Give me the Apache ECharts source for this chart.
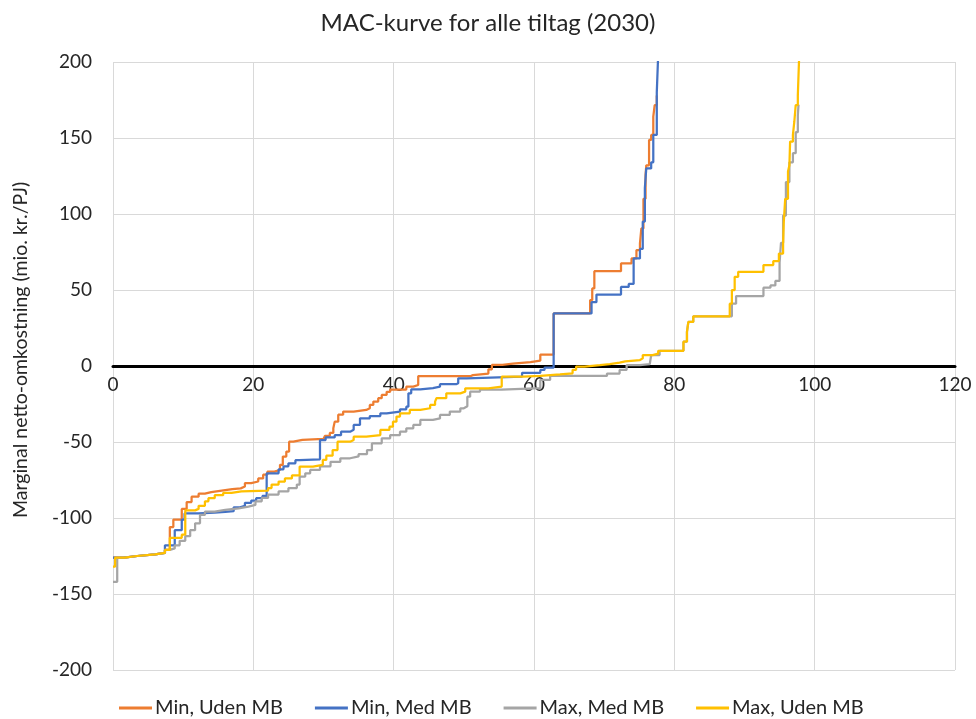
<!DOCTYPE html>
<html>
<head>
<meta charset="utf-8">
<script src="https://cdn.jsdelivr.net/npm/echarts@6/dist/echarts.min.js"></script>
<style>
html,body{margin:0;padding:0;background:#fff;}
#chart{width:976px;height:719px;}
</style>
</head>
<body>
<div id="chart"></div>
<script>
const titleText = "MAC-kurve for alle tiltag (2030)";
const yAxisName = "Marginal netto-omkostning (mio. kr./PJ)";
const seriesNames = ["Min, Uden MB", "Min, Med MB", "Max, Med MB", "Max, Uden MB"];

// [cumulative potential (PJ), marginal cost] – step curves
const minUdenMB = [[0,-126],[1.5,-125],[3.5,-124],[6,-123],[7.4,-121],[8.1,-106],[8.6,-101],[9.8,-94],[10.5,-89.5],[11.2,-86],[12.2,-84],[13.1,-83],[14,-82],[15.5,-81],[17,-80.5],[18.2,-79.3],[18.8,-77],[19.7,-76],[20.7,-74],[21.4,-71.5],[22,-69.5],[23,-68.4],[23.8,-65],[24.2,-59.6],[24.7,-56.3],[25.1,-49.8],[25.7,-48.6],[27,-48],[30,-47.6],[30.2,-46],[30.9,-44],[31.4,-41],[31.6,-36.6],[32.1,-32],[32.8,-30],[34.3,-28.9],[36.1,-27.8],[36.6,-25.6],[37.1,-23.4],[37.8,-21.2],[38.3,-19],[39,-17],[39.5,-15.5],[41.8,-13.6],[42.8,-12.5],[43.5,-6.6],[51,-6],[51.3,-5],[53.5,-2.2],[54,0.7],[55.5,1.5],[57,2.6],[59.5,3.5],[60.9,7.5],[62.8,34.6],[68,43.4],[68.3,51],[68.6,62.4],[72.4,67.5],[73.9,70.8],[74.6,76.3],[75.1,80.7],[75.3,90.5],[75.6,110],[75.9,125.7],[76,132],[76.4,148.7],[76.7,152],[77,164],[77.2,171.7],[77.5,178],[77.6,178]];
const minMedMB = [[0,-126],[1.5,-125],[3.5,-124],[6,-123],[7.4,-118],[8.8,-108],[9.8,-101],[10.2,-97],[12.2,-96.5],[14.5,-96],[16,-95.5],[17.2,-93],[18.1,-92],[18.8,-90],[19.7,-88.5],[20.4,-87],[21.3,-85.5],[21.9,-70.6],[23.6,-68],[24.3,-66],[25,-64],[26,-62],[26.6,-61.4],[29.5,-48.7],[30.3,-47],[31.6,-45.5],[32.5,-43.2],[33.8,-42],[34.3,-38.8],[35.2,-34.4],[36.6,-32.9],[38.1,-31.1],[39,-30],[40.9,-28.5],[41.8,-26.8],[42.1,-18],[42.5,-15.4],[43.8,-14.5],[45.6,-13.6],[46.6,-12],[48.9,-11.4],[49.2,-8.1],[50.4,-7],[58.3,-4.5],[60.9,-2.6],[61.5,-1],[62.8,34.6],[68.2,42],[68.9,47],[72.4,52],[73.5,54],[74.2,70.8],[75.1,77],[75.5,95],[75.8,117],[76,130],[76.7,134],[77,152],[77.5,180],[77.7,205],[77.8,205]];
const maxMedMB = [[0,-142],[0.6,-126],[1.7,-125],[3.4,-124],[6,-123],[7.4,-121],[8.1,-120],[8.8,-118],[9.5,-115],[10.3,-112],[11,-108],[11.7,-103.5],[12.4,-98],[13.1,-95.8],[14.5,-94.7],[16,-93.6],[17.9,-92.5],[19.3,-91.4],[20.3,-89],[21.2,-86.8],[22.1,-84.6],[23.6,-82.5],[25,-80.3],[26.2,-78],[26.6,-72.7],[27.4,-70.6],[28.1,-68.4],[29.5,-66],[31,-63],[32.4,-60.7],[33.8,-59.5],[35,-58],[36.2,-55.3],[36.9,-50.9],[38.3,-47.6],[39.5,-45.4],[40.9,-43.2],[41.8,-41],[42.8,-38.8],[43.8,-35.5],[45.6,-34.5],[46.6,-32.2],[48,-30],[49.5,-27.8],[50,-26.5],[50.5,-20.2],[50.9,-16.9],[52.3,-15.5],[55.4,-14.5],[60.9,-9.2],[62.3,-6.5],[70.4,-5],[72.2,-2.6],[73.2,0.5],[75.1,1.3],[76.5,2],[76.7,7.2],[77.9,10],[81.3,16],[81.8,22.5],[82,29],[82.7,32.7],[88.2,41],[88.8,46],[92.7,51.5],[93.7,53],[94.4,56],[95,68],[95.2,81],[95.5,99],[95.9,121],[96.4,134],[96.9,140],[97.3,153.8],[97.6,165],[97.7,172],[97.8,172]];
const maxUdenMB = [[0,-132],[0.3,-126],[1.7,-125],[3.4,-124],[6,-123],[7.4,-121],[8.1,-113],[9.8,-111],[10.3,-95],[11.7,-94],[12.2,-92],[13.1,-89],[13.6,-87],[14.5,-85],[15.7,-83.5],[16.9,-82.5],[18.3,-82],[22.1,-80.3],[22.6,-78],[23.6,-76],[24.5,-74],[25.5,-72],[26.6,-66.2],[28.5,-65],[29.9,-61.8],[30.4,-59],[31.3,-55.3],[32,-49.8],[33.8,-48.7],[34.3,-46.5],[36.1,-45.4],[38.1,-42.1],[39.4,-39.9],[39.9,-36.6],[40.4,-33.3],[40.9,-31.1],[42.3,-28.9],[43.8,-27.8],[45.2,-25.6],[45.9,-23.4],[46.1,-21.2],[47.5,-18],[49.5,-16.9],[50.2,-14.7],[53.5,-13.5],[55.4,-7],[58.5,-6.5],[60.9,-5.5],[63.7,-4.8],[65.5,-2.5],[66,-0.4],[67.2,0.5],[69.4,1.3],[70.8,2.2],[72.2,3],[73,3.9],[75.1,5],[75.5,7.2],[76.9,8.1],[77.7,10],[81.3,16],[81.8,22.5],[82,29],[82.7,32.7],[87.9,41],[88.2,50],[88.6,58.7],[89.1,62],[92.7,66.4],[94.1,69],[94.9,74],[95.5,80],[95.6,95],[95.8,110],[96.2,128],[96.4,132],[96.5,147.6],[96.9,152],[97.1,160.7],[97.3,171.7],[97.6,178],[97.8,205],[97.9,205]];

const seriesData = [minUdenMB, minMedMB, maxMedMB, maxUdenMB];
const colors = ["#ED7D31", "#4472C4", "#A5A5A5", "#FFC000"];

const FONT = "Lato";
const TXT = "#262626";
const chart = echarts.init(document.getElementById('chart'), null, {renderer: 'canvas'});
chart.setOption({
  animation: false,
  backgroundColor: '#fff',
  title: {
    text: titleText,
    left: 'center',
    top: 6,
    textStyle: {fontFamily: FONT, fontSize: 24, fontWeight: 'normal', color: TXT}
  },
  legend: {
    data: seriesNames,
    left: 114,
    top: 693,
    icon: 'rect',
    itemWidth: 33,
    itemHeight: 3,
    itemGap: 32,
    textStyle: {fontFamily: FONT, fontSize: 20, color: TXT, padding: [0,0,0,-2]}
  },
  grid: {left: 113, right: 21, top: 62, bottom: 49, containLabel: false},
  xAxis: [{
    type: 'value',
    min: 0, max: 120, interval: 20,
    axisLine: {onZero: true, lineStyle: {color: '#000', width: 3}},
    axisTick: {show: false},
    axisLabel: {show: false},
    splitLine: {show: true, lineStyle: {color: '#D9D9D9', width: 1}}
  }, {
    type: 'value',
    min: 0, max: 120, interval: 20,
    position: 'bottom',
    offset: -304,
    axisLine: {show: false, onZero: false},
    axisTick: {show: false},
    axisLabel: {fontFamily: FONT, fontSize: 19, color: TXT, margin: 9},
    splitLine: {show: false}
  }],
  yAxis: {
    type: 'value',
    min: -200, max: 200, interval: 50,
    name: yAxisName,
    nameLocation: 'middle',
    nameGap: 82,
    nameTextStyle: {fontFamily: FONT, fontSize: 19.5, color: TXT, padding: [0, 0, 0, 32]},
    axisLine: {show: false},
    axisTick: {show: false},
    axisLabel: {fontFamily: FONT, fontSize: 19, color: TXT, margin: 21},
    splitLine: {show: true, lineStyle: {color: '#D9D9D9', width: 1}}
  },
  series: seriesNames.map((n, i) => ({
    name: n,
    type: 'line',
    step: 'end',
    xAxisIndex: 0,
    data: seriesData[i],
    symbol: 'none',
    clip: true,
    lineStyle: {color: colors[i], width: 2.25},
    itemStyle: {color: colors[i]}
  }))
});
</script>
</body>
</html>
